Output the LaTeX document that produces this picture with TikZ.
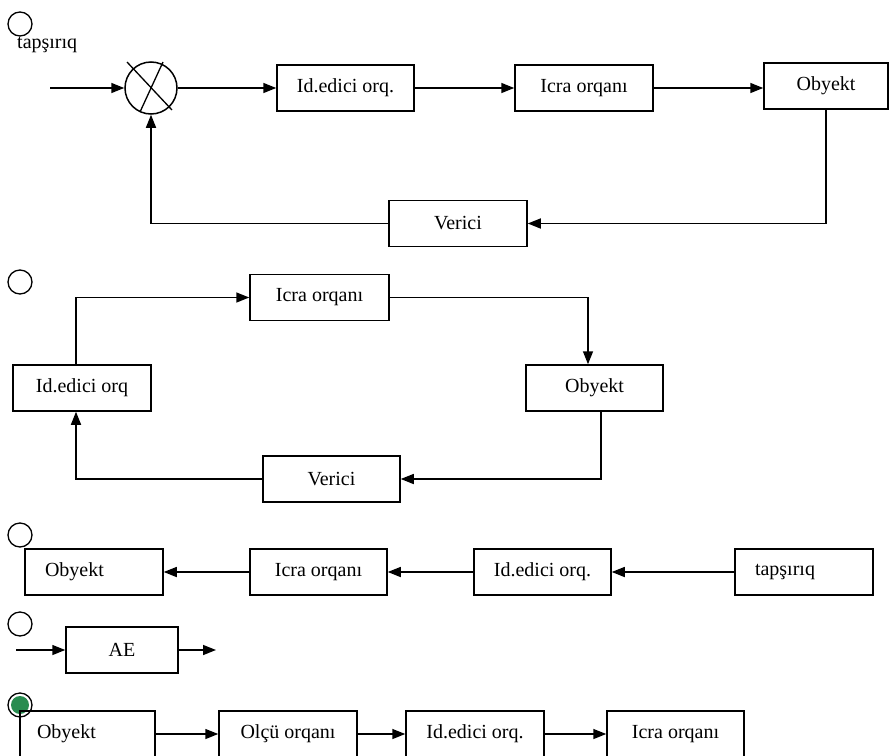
\documentclass[tikz,border=0pt]{standalone}
\usepackage{fontspec}
\setmainfont{Liberation Serif}
\usetikzlibrary{arrows.meta}
\definecolor{radiogreen}{RGB}{40,140,80}
\begin{document}
\begin{tikzpicture}[x=1pt,y=-1pt,
  box/.style={draw, line width=1.5pt, minimum height=46pt, inner sep=0pt, font=\fontsize{20}{23}\selectfont},
  lbox/.style={box, align=left, text width=98pt, inner xsep=20pt},
  arr/.style={line width=1.5pt, -{Triangle[length=13pt,width=10pt]}},
  ln/.style={line width=1.3pt},
  radio/.style={circle, draw, line width=1.3pt, minimum size=24pt, inner sep=0pt, fill=white},
  lbl/.style={font=\fontsize{20}{23}\selectfont, inner sep=0pt}
]
\useasboundingbox (0,0) rectangle (891,755);

% ---------- diagram 1 ----------
\node[lbl, anchor=west] (t1) at (17,45) {tapşırıq};
\node[radio] (r1) at (20,24) {};
\coordinate (in1) at (50,88);
\node[circle, draw, line width=1.5pt, minimum size=52pt, inner sep=0pt] (sum) at (151,88) {};
\draw[ln] ([shift={(-24,-26)}]sum.center) -- ([shift={(21,22)}]sum.center);
\draw[ln] ([shift={(12,-26)}]sum.center) -- ([shift={(-11,24)}]sum.center);
\node[box, minimum width=137pt] (id1) at (345.5,88) {Id.edici orq.};
\node[box, minimum width=138pt] (ic1) at (584,88) {Icra orqanı};
\node[box, minimum width=124pt] (ob1) at (826,86) {Obyekt};
\node[box, minimum width=138pt] (ve1) at (458,223.5) {Verici};
\draw[arr] (in1) -- (sum.west);
\draw[arr] (sum.east) -- (id1.west);
\draw[arr] (id1.east) -- (ic1.west);
\draw[arr] (ic1.east) -- (ic1.east -| ob1.west);
\draw[arr] (ob1.south) |- (ve1.east);
\draw[arr] (ve1.west) -| (sum.south);

% ---------- diagram 2 ----------
\node[radio] (r2) at (20,282) {};
\node[box, minimum width=139pt] (ic2) at (319.5,297.5) {Icra orqanı};
\node[box, minimum width=138pt] (id2) at (82,388) {Id.edici orq};
\node[box, minimum width=137pt] (ob2) at (594.5,388) {Obyekt};
\node[box, minimum width=137pt] (ve2) at (331.5,479) {Verici};
\draw[arr] ([xshift=-6pt]id2.north) |- (ic2.west);
\draw[arr] (ic2.east) -| ([xshift=-6.5pt]ob2.north);
\draw[arr] ([xshift=6.5pt]ob2.south) |- (ve2.east);
\draw[arr] (ve2.west) -| ([xshift=-6pt]id2.south);

% ---------- diagram 3 ----------
\node[radio] (r3) at (20,535) {};
\node[lbox] (ob3) at (94,572) {Obyekt};
\node[box, minimum width=137pt] (ic3) at (318.5,572) {Icra orqanı};
\node[box, minimum width=137pt] (id3) at (542.5,572) {Id.edici orq.};
\node[lbox] (tp3) at (804,572) {tapşırıq};
\draw[arr] (tp3.west) -- (id3.east);
\draw[arr] (id3.west) -- (ic3.east);
\draw[arr] (ic3.west) -- (ob3.east);

% ---------- diagram 4 ----------
\node[radio] (r4) at (20,624) {};
\node[box, minimum width=112pt] (ae) at (122,650) {AE};
\coordinate (in4) at (16,650);
\coordinate (out4) at (216,650);
\draw[arr] (in4) -- (ae.west);
\draw[arr] (ae.east) -- (out4);

% ---------- diagram 5 ----------
\node[radio] (r5) at (20,705) {};
\fill[radiogreen] (r5.center) circle (9pt);
\node[box, align=left, text width=101pt, inner xsep=17pt] (ob5) at (87.5,734) {Obyekt};
\node[box, minimum width=138pt] (ol5) at (288,734) {Olçü orqanı};
\node[box, minimum width=138pt] (id5) at (475,734) {Id.edici orq.};
\node[box, minimum width=137pt] (ic5) at (675.5,734) {Icra orqanı};
\draw[arr] (ob5.east) -- (ol5.west);
\draw[arr] (ol5.east) -- (id5.west);
\draw[arr] (id5.east) -- (ic5.west);
\end{tikzpicture}
\end{document}
